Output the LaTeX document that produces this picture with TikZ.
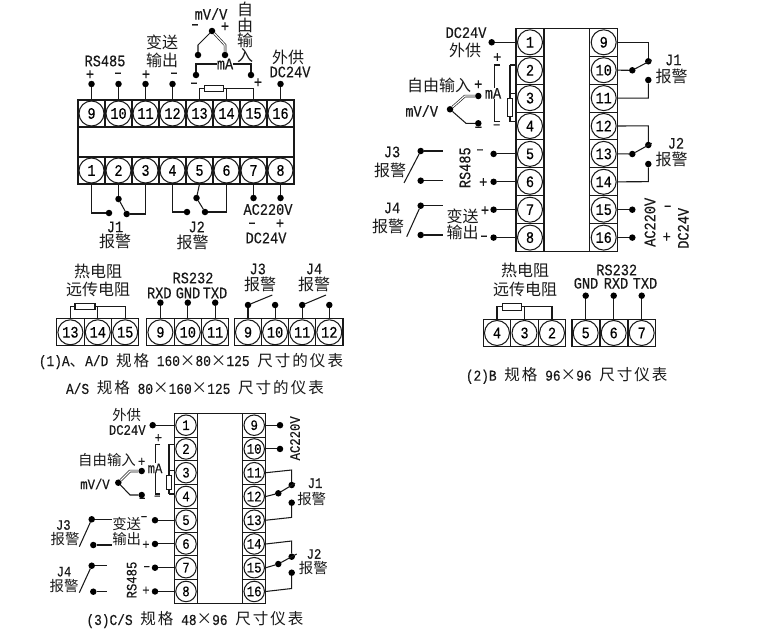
\documentclass[tikz,border=0pt]{standalone}
\usepackage{fontspec}
\setmainfont[FakeStretch=0.85,FakeBold=0.3]{Liberation Mono}
\newfontfamily\cjk[Scale=1.0]{Noto Sans CJK SC}
\newfontfamily\cjkwide[Scale=1.03,LetterSpace=13]{Noto Sans CJK SC}
\newcommand{\zh}[1]{{\cjk #1}}
\newcommand{\zw}[1]{{\cjkwide #1}}
\tikzset{
	wire/.style={line width=1.05pt, black!90},
	twinwire/.style={double, double distance=1.2pt, line width=0.65pt, black!90},
	cellbox/.style={draw=black!90, line width=1.05pt, rectangle, inner sep=0, outer sep=0},
	cella/.style={cellbox, minimum width=27pt, minimum height=27pt},
	cellb/.style={cellbox, minimum width=28pt, minimum height=27.9pt},
	cellc/.style={cellbox, minimum width=23.5pt, minimum height=23.75pt},
	cellt/.style={cellbox, minimum width=27.4pt, minimum height=26.7pt},
	pinring/.style={draw=black!90, line width=1.05pt, circle, inner sep=0, minimum size=25pt, font=\fontsize{16}{16}\selectfont},
	pinsmall/.style={pinring, minimum size=20.5pt, font=\fontsize{14.5}{14.5}\selectfont},
	pindot/.style={circle, fill=black, inner sep=0, outer sep=0, minimum size=6.5pt},
	resbox/.style={draw=black!90, line width=1.05pt, fill=white, rectangle, inner sep=0, outer sep=0},
	tag/.style={inner sep=0, black!90, font=\fontsize{16}{16}\selectfont},
	tagc/.style={inner sep=0, black!90, font=\fontsize{14.4}{14.4}\selectfont},
	caption/.style={inner sep=0, black!90, font=\fontsize{15.1}{15.1}\selectfont},
}
\newcommand{\terminal}[5]{
	\node[#1] (#2) at (#3,#4) {};
	\node[#5] (#2r) at (#2) {\pinnum};
}
\newcommand{\lab}[4][tag]{\node[#1] (#2) at (#3) {#4};}
\newcommand{\pinat}[2]{\node[pindot] (#1) at (#2) {};}

\begin{document}
\begin{tikzpicture}[x=1pt,y=-1pt]
	\useasboundingbox (0,0) rectangle (770,637);

	\foreach \pinnum [count=\i from 0] in {9,...,16} {\terminal{cella}{a\pinnum}{91.5+27*\i}{113.5}{pinring}}
	\foreach \pinnum [count=\i from 0] in {1,...,8} {\terminal{cella}{a\pinnum}{91.5+27*\i}{170.5}{pinring}}
	\draw[wire] (a9.north west) rectangle (a8.south east);

	\pinat{ap9}{a9|-0,84}
	\pinat{ap10}{a10|-0,84}
	\pinat{ap11}{a11|-0,84}
	\pinat{ap12}{a12|-0,84}
	\pinat{ap16}{a16|-0,84}
	\draw[wire] (ap9) -- (a9.north);
	\draw[wire] (ap10) -- (a10.north);
	\draw[wire] (ap11) -- (a11.north);
	\draw[wire] (ap12) -- (a12.north);
	\draw[wire] (ap16) -- (a16.north);
	\lab{aRS}{105,61}{RS485}
	\lab{ap1}{90,75}{+}
	\lab{am1}{118,75}{–}
	\lab{ap2}{146,75}{+}
	\lab{am2}{174,75}{–}
	\lab{aTa}{162,42}{\zh{变送}}
	\lab{aTb}{162,60}{\zh{输出}}
	\lab{aEa}{288,57}{\zh{外供}}
	\lab{aEb}{290,72}{DC24V}

	\lab{aMV}{211,14}{mV/V}
	\lab{am3}{195,26.5}{–}
	\lab{ap3}{225,27}{+}
	\pinat{aTc}{212,31}
	\pinat{aTl}{198,55}
	\pinat{aTr}{225,55}
	\coordinate (aTlk) at (198,45);
	\coordinate (aTrk) at (225,45);
	\draw[wire] (aTc) -- (aTlk) -- (aTl);
	\draw[twinwire] (aTc) -- (aTrk) -- (aTr);
	\lab{aFa}{245,9}{\zh{自}}
	\lab{aFb}{245,25}{\zh{由}}
	\lab{aFc}{245,40}{\zh{输}}
	\lab{aFd}{245,56}{\zh{入}}
	\lab{aMA}{225,64}{mA}
	\pinat{aAl}{196,75}
	\pinat{aAr}{251,75}
	\draw[wire] (aAl) |- (aMA.west);
	\draw[wire] (aMA.east) -| (aAr);
	\lab{am4}{194,85}{–}
	\lab{ap4}{258,83}{+}
	\node[resbox, minimum width=19pt, minimum height=5.5pt] (Ra) at (213.8,88.3) {};
	\draw[wire] (a13.north) |- (Ra.west);
	\draw[wire] (Ra.east) -| (a15.north);
	\draw[wire] (a14.north) |- (Ra.east);

	\pinat{aJa}{109,213}
	\pinat{aJb}{118.5,199}
	\pinat{aJc}{126.7,214}
	\draw[wire] (a1.south) |- (aJa);
	\draw[wire] (a2.south) -- (aJb);
	\draw[wire] (a3.south) |- (aJc);
	\draw[wire] (aJb) -- (aJc);
	\lab{aJd}{115,227}{J1}
	\lab{aJe}{115,241}{\zh{报警}}
	\pinat{aKa}{187,212}
	\pinat{aKb}{196.5,198}
	\pinat{aKc}{205,212}
	\draw[wire] (a4.south) |- (aKa);
	\draw[wire] (a5.south) -- (aKb);
	\draw[wire] (a6.south) |- (aKc);
	\draw[wire] (aKb) -- (aKc);
	\lab{aKd}{196.7,227}{J2}
	\lab{aKe}{192.7,242}{\zh{报警}}
	\pinat{ap7}{a7|-0,198}
	\pinat{ap8}{a8|-0,198}
	\draw[wire] (a7.south) -- (ap7);
	\draw[wire] (a8.south) -- (ap8);
	\lab{aAC}{268,209.5}{AC220V}
	\lab{am5}{252,225}{–}
	\lab{ap5}{280,224}{+}
	\lab{aDC}{266,238}{DC24V}

	\lab{tTa}{98,271}{\zh{热电阻}}
	\lab{tTb}{98,289}{\zh{远传电阻}}
	\foreach \pinnum [count=\i from 0] in {13,14,15} {\terminal{cellt}{t\pinnum}{70.4+27.4*\i}{332.3}{pinring}}
	\node[resbox, minimum width=20pt, minimum height=6pt] (Rt) at (85,306.3) {};
	\draw[wire] (t13.north) |- (Rt.west);
	\draw[wire] (Rt.east) -| (t15.north);
	\draw[wire] (t14.north) |- (Rt.east);

	\foreach \pinnum [count=\i from 0] in {9,10,11} {\terminal{cellt}{r\pinnum}{160.4+27.4*\i}{332.3}{pinring}}
	\lab{rRS}{193,278}{RS232}
	\lab{rRX}{159.3,293}{RXD}
	\lab{rGN}{188,293}{GND}
	\lab{rTX}{215,293}{TXD}
	\pinat{rp9}{r9|-0,302.7}
	\pinat{rp10}{r10|-0,302.7}
	\pinat{rp11}{r11|-0,302.7}
	\draw[wire] (rp9) -- (r9.north);
	\draw[wire] (rp10) -- (r10.north);
	\draw[wire] (rp11) -- (r11.north);

	\foreach \pinnum/\cellname [count=\i from 0] in {9/j9,10/j10,11/j11,12/j12} {\terminal{cellt}{\cellname}{248+27.1*\i}{332.3}{pinring}}
	\lab{jJa}{257.7,269}{J3}
	\lab{jJb}{260,284}{\zh{报警}}
	\lab{jJc}{314,269}{J4}
	\lab{jJd}{314,284}{\zh{报警}}
	\pinat{jp9}{j9|-0,305}
	\pinat{jp10}{j10|-0,305}
	\pinat{jp11}{j11|-0,305}
	\pinat{jp12}{j12|-0,305}
	\coordinate (jA3) at (272.3,295);
	\coordinate (jA4) at (326,295);
	\draw[wire] (jp9) -- (j9.north);
	\draw[wire] (jp10) -- (j10.north);
	\draw[wire] (jp11) -- (j11.north);
	\draw[wire] (jp12) -- (j12.north);
	\draw[wire] (jp9) -- (jA3);
	\draw[wire] (jp11) -- (jA4);

	\lab[caption]{capAa}{191,361}{(1)A\zw{、}A/D \zw{规格} 160\zw{×}80\zw{×}125 \zw{尺寸的仪表}}
	\lab[caption]{capAb}{195,388}{A/S \zw{规格} 80\zw{×}160\zw{×}125 \zw{尺寸的仪表}}

	\foreach \pinnum [count=\i from 0] in {1,...,8} {\terminal{cellb}{b\pinnum}{530+0*\i}{42.3+27.9*\i}{pinring}}
	\foreach \pinnum [count=\i from 0] in {9,...,16} {\terminal{cellb}{b\pinnum}{603.7+0*\i}{42.3+27.9*\i}{pinring}}
	\draw[wire] (b1.north west) rectangle (b16.south east);

	\pinat{bp1}{491.7,0|-b1}
	\draw[wire] (bp1) -- (b1.west);
	\lab{bDa}{466,32.7}{DC24V}
	\lab{bDb}{465,50.7}{\zh{外供}}
	\lab{bp}{497.3,57.7}{+}
	\lab{bMA}{493,93.3}{mA}
	\lab{bm}{496.7,126.7}{–}
	\coordinate (bBa) at (500,65);
	\coordinate (bBb) at (500,121.7);
	\coordinate (bBc) at (494.3,65);
	\coordinate (bBd) at (494.3,121.7);
	\draw[wire] (bBa) -- (bBc) -- (bMA.north-|bBc);
	\draw[wire] (bBb) -- (bBd) -- (bMA.south-|bBd);
	\node[resbox, minimum width=5.4pt, minimum height=18.4pt] (Rb) at (510,107.5) {};
	\coordinate (bRa) at (510,65);
	\coordinate (bRb) at (510,93.3);
	\coordinate (bRc) at (510,121.7);
	\draw[wire] (bRa) -- (Rb.north);
	\draw[wire] (Rb.south) -- (bRc);
	\draw[wire] (bRa) -- (bRa-|b2.west);
	\draw[wire] (bRb) -- (bRb-|b3.west);
	\draw[wire] (bRc) -- (bRc-|b4.west);
	\lab{bMV}{421.7,111}{mV/V}
	\lab{bFr}{439,85.5}{\zh{自由输入}}
	\lab{bpp}{478.3,85}{+}
	\pinat{bTc}{450,109.3}
	\pinat{bTu}{478.3,96}
	\pinat{bTd}{478.3,123.3}
	\coordinate (bTuk) at (465,96);
	\coordinate (bTdk) at (466,123.3);
	\draw[twinwire] (bTc) -- (bTuk) -- (bTu);
	\draw[wire] (bTc) -- (bTdk) -- (bTd);
	\lab{bmm}{478.3,129}{–}

	\lab{bJa}{392,152}{J3}
	\lab{bJb}{390,170}{\zh{报警}}
	\pinat{bLa}{420.7,151}
	\pinat{bLb}{420.7,180.7}
	\coordinate (bLc) at (442.7,151);
	\coordinate (bLd) at (442.7,180.7);
	\coordinate (bLe) at (404,183);
	\draw[wire] (bLa) -- (bLc);
	\draw[wire] (bLb) -- (bLd);
	\draw[wire] (bLa) -- (bLe);
	\lab{bKa}{392,208}{J4}
	\lab{bKb}{388,226}{\zh{报警}}
	\pinat{bMa}{420.7,205.7}
	\pinat{bMb}{420.7,235}
	\coordinate (bMc) at (443,205.7);
	\coordinate (bMd) at (443,235);
	\coordinate (bMe) at (406.7,236.7);
	\draw[wire] (bMa) -- (bMc);
	\draw[wire] (bMb) -- (bMd);
	\draw[wire] (bMa) -- (bMe);

	\lab[{tag,rotate=90}]{bRS}{465,167.7}{RS485}
	\lab{bs1}{480,151.7}{–}
	\lab{bs2}{483.3,182.7}{+}
	\lab{bs3}{485,211}{+}
	\lab{bs4}{484,238}{–}
	\lab{bTa}{462.7,216.5}{\zh{变送}}
	\lab{bTb}{462.7,232}{\zh{输出}}
	\foreach \pinnum in {5,6,7,8} {
		\pinat{bp\pinnum}{493.6,0|-b\pinnum}
		\draw[wire] (bp\pinnum) -- (b\pinnum.west);
	}

	\pinat{bGa}{648.3,61.3}
	\pinat{bGb}{632.3,70.3}
	\pinat{bGc}{648.3,80}
	\coordinate (bGd) at (651.7,60);
	\coordinate (bGe) at (648.3,42.3);
	\coordinate (bGf) at (648.3,98.1);
	\draw[wire] (b9.east) -- (bGe) -- (bGa);
	\draw[wire] (b11.east) -- (bGf) -- (bGc);
	\draw[wire] (b10.east) -- (bGb) -- (bGd);
	\lab{bJc}{673.3,60}{J1}
	\lab{bJd}{671.7,76}{\zh{报警}}
	\pinat{bHa}{648.3,145}
	\pinat{bHb}{632.3,154}
	\pinat{bHc}{648.3,164}
	\coordinate (bHd) at (651.7,143.3);
	\coordinate (bHe) at (648.3,125.9);
	\coordinate (bHf) at (648.3,181.7);
	\draw[wire] (b12.east) -- (bHe) -- (bHa);
	\draw[wire] (b14.east) -- (bHf) -- (bHc);
	\draw[wire] (b13.east) -- (bHb) -- (bHd);
	\lab{bJe}{676,143.3}{J2}
	\lab{bJf}{671.7,159}{\zh{报警}}
	\pinat{bp15}{632.3,0|-b15}
	\pinat{bp16}{632.3,0|-b16}
	\draw[wire] (b15.east) -- (bp15);
	\draw[wire] (b16.east) -- (bp16);
	\lab[{tag,rotate=90}]{bAC}{650,222.3}{AC220V}
	\lab{bs5}{667.7,208}{–}
	\lab{bs6}{666.7,237.3}{+}
	\lab[{tag,rotate=90}]{bDC}{683.3,228.3}{DC24V}

	\lab{sTa}{525,270}{\zh{热电阻}}
	\lab{sTb}{525,289.3}{\zh{远传电阻}}
	\foreach \pinnum [count=\i from 0] in {4,3,2} {\terminal{cellt}{s\pinnum}{497+27.5*\i}{333}{pinring}}
	\node[resbox, minimum width=19.4pt, minimum height=6.7pt] (Rs) at (512,306.7) {};
	\draw[wire] (s4.north) |- (Rs.west);
	\draw[wire] (Rs.east) -| (s2.north);
	\draw[wire] (s3.north) |- (Rs.east);
	\foreach \pinnum [count=\i from 0] in {5,6,7} {\terminal{cellt}{u\pinnum}{585.7+28*\i}{333}{pinring}}
	\lab{uRS}{616.7,270}{RS232}
	\lab{uGN}{586,283.3}{GND}
	\lab{uRX}{616,283.3}{RXD}
	\lab{uTX}{645,283.3}{TXD}
	\pinat{up5}{u5|-0,295.7}
	\pinat{up6}{u6|-0,295.7}
	\pinat{up7}{u7|-0,295.7}
	\draw[wire] (up5) -- (u5.north);
	\draw[wire] (up6) -- (u6.north);
	\draw[wire] (up7) -- (u7.north);
	\lab[caption]{capB}{566.7,375.7}{(2)B \zw{规格} 96\zw{×}96 \zw{尺寸仪表}}

	\foreach \pinnum [count=\i from 0] in {1,...,8} {\terminal{cellc}{c\pinnum}{186+0*\i}{425.2+23.75*\i}{pinsmall}}
	\foreach \pinnum [count=\i from 0] in {9,...,16} {\terminal{cellc}{c\pinnum}{254.2+0*\i}{425.2+23.75*\i}{pinsmall}}
	\draw[wire] (c1.north west) rectangle (c16.south east);

	\pinat{cp1}{152.7,0|-c1}
	\draw[wire] (cp1) -- (c1.west);
	\lab[tagc]{cEa}{126.7,415}{\zh{外供}}
	\lab[tagc]{cEb}{127.3,430}{DC24V}
	\lab[tagc]{cp}{158.3,438.3}{+}
	\lab[tagc]{cMA}{155,468.3}{mA}
	\lab[tagc]{cm}{157.3,497.7}{–}
	\coordinate (cBa) at (160,444.3);
	\coordinate (cBb) at (160,494);
	\coordinate (cBc) at (155.7,444.3);
	\coordinate (cBd) at (155.7,494);
	\draw[wire] (cBa) -- (cBc) -- (cMA.north-|cBc);
	\draw[wire] (cBb) -- (cBd) -- (cMA.south-|cBd);
	\node[resbox, minimum width=5pt, minimum height=14.3pt] (Rc) at (169,482.2) {};
	\coordinate (cRa) at (169,444.3);
	\coordinate (cRb) at (169,470.7);
	\coordinate (cRc) at (169,494);
	\draw[wire] (cRa) -- (Rc.north);
	\draw[wire] (Rc.south) -- (cRc);
	\draw[wire] (cRa) -- (cRa-|c2.west);
	\draw[wire] (cRb) -- (cRb-|c3.west);
	\draw[wire] (cRc) -- (cRc-|c4.west);
	\lab[tagc]{cFr}{107,460.5}{\zh{自由输入}}
	\lab[tagc]{cpp}{141.7,462}{+}
	\lab[tagc]{cMV}{95,484}{mV/V}
	\pinat{cTc}{118.3,482.7}
	\pinat{cTu}{141.7,471}
	\pinat{cTd}{141.7,495}
	\coordinate (cTuk) at (130,471);
	\coordinate (cTdk) at (130,495);
	\draw[twinwire] (cTc) -- (cTuk) -- (cTu);
	\draw[wire] (cTc) -- (cTdk) -- (cTd);
	\lab[tagc]{cmm}{142.3,500}{–}

	\lab[tagc]{cJa}{63.3,525}{J3}
	\lab[tagc]{cJb}{65,539.3}{\zh{报警}}
	\pinat{cLa}{91.7,519.3}
	\pinat{cLb}{93.3,545}
	\coordinate (cLc) at (111.7,519.3);
	\coordinate (cLd) at (111.7,545);
	\coordinate (cLe) at (79.3,546.7);
	\draw[wire] (cLa) -- (cLc);
	\draw[wire] (cLb) -- (cLd);
	\draw[wire] (cLa) -- (cLe);
	\lab[tagc]{cTa}{126.7,524}{\zh{变送}}
	\lab[tagc]{cTb}{126.7,539.3}{\zh{输出}}
	\lab[tagc]{cs1}{144,518.3}{–}
	\lab[tagc]{cs2}{146,545}{+}
	\lab[tagc]{cJc}{64,571.7}{J4}
	\lab[tagc]{cJd}{64,585.7}{\zh{报警}}
	\pinat{cMa}{91.7,565.7}
	\pinat{cMb}{93.3,591.7}
	\coordinate (cMc) at (106.7,565.7);
	\coordinate (cMd) at (106.7,591.7);
	\coordinate (cMe) at (79.3,592.7);
	\draw[wire] (cMa) -- (cMc);
	\draw[wire] (cMb) -- (cMd);
	\draw[wire] (cMa) -- (cMe);
	\lab[{tagc,rotate=90}]{cRS}{131.7,580}{RS485}
	\lab[tagc]{cs3}{146.7,568.3}{–}
	\lab[tagc]{cs4}{146,590.7}{+}
	\foreach \pinnum in {5,6,7,8} {
		\pinat{cp\pinnum}{155,0|-c\pinnum}
		\draw[wire] (cp\pinnum) -- (c\pinnum.west);
	}

	\pinat{cp9}{280,0|-c9}
	\pinat{cp10}{280,0|-c10}
	\draw[wire] (c9.east) -- (cp9);
	\draw[wire] (c10.east) -- (cp10);
	\lab[{tagc,rotate=90}]{cAC}{295,438.3}{AC220V}
	\pinat{cGa}{291.7,485}
	\pinat{cGb}{278.3,493.3}
	\pinat{cGc}{291.7,502.7}
	\coordinate (cGd) at (295,483.3);
	\coordinate (cGe) at (291.7,470);
	\coordinate (cGf) at (291.7,517.4);
	\draw[wire] (c11.east) -- (cGe) -- (cGa);
	\draw[wire] (c13.east) -- (cGf) -- (cGc);
	\draw[wire] (c12.east) -- (cGb) -- (cGd);
	\lab[tagc]{cJe}{315,483.3}{J1}
	\lab[tagc]{cJf}{311.7,499}{\zh{报警}}
	\pinat{cHa}{291.7,556.7}
	\pinat{cHb}{278.3,564}
	\pinat{cHc}{291.7,572.7}
	\coordinate (cHd) at (296.7,554);
	\coordinate (cHe) at (291.7,541);
	\coordinate (cHf) at (291.7,588.5);
	\draw[wire] (c14.east) -- (cHe) -- (cHa);
	\draw[wire] (c16.east) -- (cHf) -- (cHc);
	\draw[wire] (c15.east) -- (cHb) -- (cHd);
	\lab[tagc]{cJg}{314,554}{J2}
	\lab[tagc]{cJh}{313.3,568.3}{\zh{报警}}
	\lab[caption]{capC}{195,620}{(3)C/S \zw{规格} 48\zw{×}96 \zw{尺寸仪表}}
\end{tikzpicture}
\end{document}
